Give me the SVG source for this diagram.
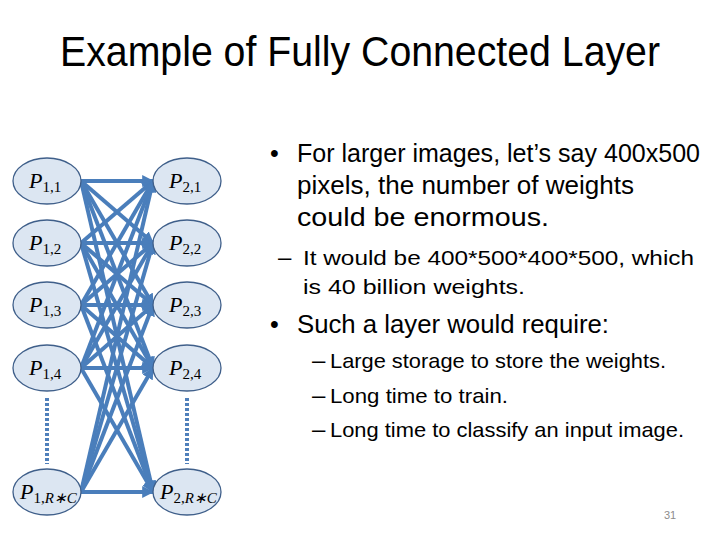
<svg xmlns="http://www.w3.org/2000/svg" width="720" height="540" viewBox="0 0 720 540">
<style>
.title{font-family:"Liberation Sans",Arial,sans-serif;font-size:43px;fill:#000}
.b1{font-family:"Liberation Sans",Arial,sans-serif;font-size:25px;fill:#000}
.b2{font-family:"Liberation Sans",Arial,sans-serif;font-size:21px;fill:#000}
.dash{font-family:"Liberation Sans",Arial,sans-serif;font-size:24px;fill:#000}
.pg{font-family:"Liberation Sans",Arial,sans-serif;font-size:11px;fill:#8c8c8c}
.node ellipse{fill:#dce6f2;stroke:#3f5f8a;stroke-width:1.3}
.lbl{font-family:"Liberation Serif","Times New Roman",serif;font-size:22px;fill:#000}
.lbl .p{font-style:italic}
.lbl .s{font-size:15px}
.lbl .si{font-size:15px;font-style:italic}
.edges line{stroke:#4a7ebb;stroke-width:4;marker-end:url(#ah)}
.dots{stroke:#4f7fba;stroke-width:4;stroke-dasharray:3 2}
</style>
<defs>
<marker id="ah" viewBox="0 0 10 10" refX="9" refY="5" markerWidth="3" markerHeight="3" orient="auto">
<path d="M0,0 L10,5 L0,10 z" fill="#4a7ebb"/>
</marker>
</defs>
<rect width="720" height="540" fill="#fff"/>
<text class="title" x="60" y="66" textLength="600" lengthAdjust="spacingAndGlyphs">Example of Fully Connected Layer</text>

<g class="edges" id="connectors">
<line x1="81" y1="181" x2="153" y2="181"/><line x1="81" y1="181" x2="153" y2="243"/><line x1="81" y1="181" x2="153" y2="305"/><line x1="81" y1="181" x2="153" y2="368"/><line x1="81" y1="181" x2="153" y2="492"/>
<line x1="81" y1="243" x2="153" y2="181"/><line x1="81" y1="243" x2="153" y2="243"/><line x1="81" y1="243" x2="153" y2="305"/><line x1="81" y1="243" x2="153" y2="368"/><line x1="81" y1="243" x2="153" y2="492"/>
<line x1="81" y1="305" x2="153" y2="181"/><line x1="81" y1="305" x2="153" y2="243"/><line x1="81" y1="305" x2="153" y2="305"/><line x1="81" y1="305" x2="153" y2="368"/><line x1="81" y1="305" x2="153" y2="492"/>
<line x1="81" y1="368" x2="153" y2="181"/><line x1="81" y1="368" x2="153" y2="243"/><line x1="81" y1="368" x2="153" y2="305"/><line x1="81" y1="368" x2="153" y2="368"/><line x1="81" y1="368" x2="153" y2="492"/>
<line x1="81" y1="492" x2="153" y2="181"/><line x1="81" y1="492" x2="153" y2="243"/><line x1="81" y1="492" x2="153" y2="305"/><line x1="81" y1="492" x2="153" y2="368"/><line x1="81" y1="492" x2="153" y2="492"/>
</g>
<line class="dots" x1="47" y1="398" x2="47" y2="464"/>
<line class="dots" x1="187" y1="398" x2="187" y2="464"/>

<g class="node" id="p11"><ellipse cx="47" cy="181" rx="34" ry="23"/><text class="lbl" x="29" y="188"><tspan class="p">P</tspan><tspan class="s" dy="4">1,1</tspan></text></g>
<g class="node" id="p12"><ellipse cx="47" cy="243" rx="34" ry="23"/><text class="lbl" x="29" y="250"><tspan class="p">P</tspan><tspan class="s" dy="4">1,2</tspan></text></g>
<g class="node" id="p13"><ellipse cx="47" cy="305" rx="34" ry="23"/><text class="lbl" x="29" y="312"><tspan class="p">P</tspan><tspan class="s" dy="4">1,3</tspan></text></g>
<g class="node" id="p14"><ellipse cx="47" cy="368" rx="34" ry="23"/><text class="lbl" x="29" y="375"><tspan class="p">P</tspan><tspan class="s" dy="4">1,4</tspan></text></g>
<g class="node" id="p1rc"><ellipse cx="47" cy="492" rx="34" ry="23"/><text class="lbl" x="20" y="499"><tspan class="p">P</tspan><tspan class="s" dy="4">1,</tspan><tspan class="si">R∗C</tspan></text></g>
<g class="node" id="p21"><ellipse cx="187" cy="181" rx="34" ry="23"/><text class="lbl" x="169" y="188"><tspan class="p">P</tspan><tspan class="s" dy="4">2,1</tspan></text></g>
<g class="node" id="p22"><ellipse cx="187" cy="243" rx="34" ry="23"/><text class="lbl" x="169" y="250"><tspan class="p">P</tspan><tspan class="s" dy="4">2,2</tspan></text></g>
<g class="node" id="p23"><ellipse cx="187" cy="305" rx="34" ry="23"/><text class="lbl" x="169" y="312"><tspan class="p">P</tspan><tspan class="s" dy="4">2,3</tspan></text></g>
<g class="node" id="p24"><ellipse cx="187" cy="368" rx="34" ry="23"/><text class="lbl" x="169" y="375"><tspan class="p">P</tspan><tspan class="s" dy="4">2,4</tspan></text></g>
<g class="node" id="p2rc"><ellipse cx="187" cy="492" rx="34" ry="23"/><text class="lbl" x="160" y="499"><tspan class="p">P</tspan><tspan class="s" dy="4">2,</tspan><tspan class="si">R∗C</tspan></text></g>

<text class="b1" x="270" y="162">•</text>
<text class="b1" x="297" y="162" textLength="403" lengthAdjust="spacingAndGlyphs">For larger images, let’s say 400x500</text>
<text class="b1" x="297" y="194" textLength="337" lengthAdjust="spacingAndGlyphs">pixels, the number of weights</text>
<text class="b1" x="297" y="226" textLength="252" lengthAdjust="spacingAndGlyphs">could be enormous.</text>
<text class="dash" x="278" y="265">–</text>
<text class="b2" x="303" y="265" textLength="391" lengthAdjust="spacingAndGlyphs">It would be 400*500*400*500, which</text>
<text class="b2" x="303" y="294" textLength="222" lengthAdjust="spacingAndGlyphs">is 40 billion weights.</text>
<text class="b1" x="270" y="333">•</text>
<text class="b1" x="297" y="333" textLength="312" lengthAdjust="spacingAndGlyphs">Such a layer would require:</text>
<text class="dash" x="312" y="368">–</text>
<text class="b2" x="330" y="368" textLength="336" lengthAdjust="spacingAndGlyphs">Large storage to store the weights.</text>
<text class="dash" x="312" y="403">–</text>
<text class="b2" x="330" y="403" textLength="178" lengthAdjust="spacingAndGlyphs">Long time to train.</text>
<text class="dash" x="312" y="437">–</text>
<text class="b2" x="330" y="437" textLength="354" lengthAdjust="spacingAndGlyphs">Long time to classify an input image.</text>
<text class="pg" x="664" y="519">31</text>
</svg>
